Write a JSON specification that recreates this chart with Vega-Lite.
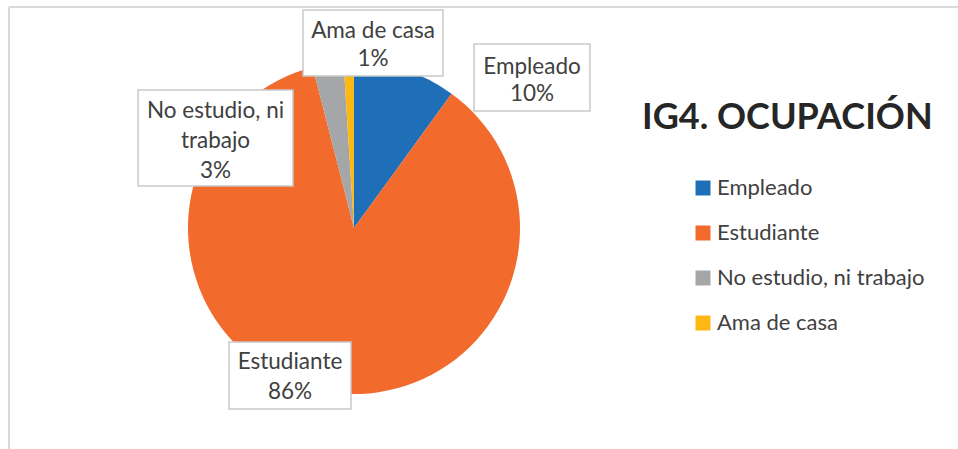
{
  "$schema": "https://vega.github.io/schema/vega-lite/v6.json",
  "width": 690,
  "height": 442,
  "autosize": {"type": "none"},
  "padding": {"left": 9, "top": 7, "right": 259, "bottom": 0},
  "background": "white",
  "config": {"view": {"stroke": null}, "font": "Lato"},
  "title": {
    "text": "IG4. OCUPACIÓN",
    "anchor": "start",
    "frame": "group",
    "orient": "top",
    "offset": 0,
    "dx": 633,
    "dy": 159,
    "baseline": "alphabetic",
    "font": "Lato",
    "fontSize": 36,
    "fontWeight": "bold",
    "color": "#262626"
  },
  "data": {
    "values": [
      {"cat": "Empleado", "label": "Empleado", "value": 0.10, "ord": 1},
      {"cat": "Estudiante", "label": "Estudiante", "value": 0.86, "ord": 2},
      {"cat": "No estudio, ni trabajo", "label": "No estudio, ni\ntrabajo", "value": 0.03, "ord": 3},
      {"cat": "Ama de casa", "label": "Ama de casa", "value": 0.01, "ord": 4}
    ]
  },
  "layer": [
    {
      "mark": {"type": "rule", "x": 0, "x2": {"expr": "width + 300"}, "color": "#d9d9d9", "strokeWidth": 2},
      "encoding": {"y": {"value": 0}}
    },
    {
      "mark": {"type": "rule", "y": 0, "y2": {"expr": "height + 300"}, "color": "#d9d9d9", "strokeWidth": 2},
      "encoding": {"x": {"value": 0}}
    },
    {
      "mark": {"type": "arc", "outerRadius": 166},
      "encoding": {
        "theta": {"field": "value", "type": "quantitative", "stack": true},
        "order": {"field": "ord", "type": "quantitative"},
        "color": {
          "field": "cat",
          "type": "nominal",
          "sort": ["Empleado", "Estudiante", "No estudio, ni trabajo", "Ama de casa"],
          "scale": {
            "domain": ["Empleado", "Estudiante", "No estudio, ni trabajo", "Ama de casa"],
            "range": ["#1f6eb8", "#f26a2c", "#a5a6a8", "#fdb813"]
          },
          "legend": {
            "orient": "none",
            "legendX": 683,
            "legendY": 170,
            "title": null,
            "symbolType": "square",
            "symbolSize": 225,
            "symbolStrokeWidth": 0,
            "labelFontSize": 22,
            "labelFont": "Lato",
            "labelColor": "#404040",
            "rowPadding": 23,
            "labelOffset": 3,
            "padding": 0,
            "labelLimit": 400
          }
        }
      }
    },
    {
      "mark": {"type": "point", "size": 4, "filled": true, "color": "white", "stroke": "#c9c9c9", "strokeWidth": 1.5, "opacity": 1},
      "encoding": {
        "x": {"field": "value", "type": "quantitative", "axis": null, "scale": {"domain": [0.01, 0.03, 0.10, 0.86], "range": [364, 206.5, 523, 281], "nice": false, "zero": false}},
        "y": {"field": "value", "type": "quantitative", "axis": null, "scale": {"domain": [0.01, 0.03, 0.10, 0.86], "range": [36, 131, 70.5, 368.5], "nice": false, "zero": false}},
        "shape": {
          "field": "cat",
          "type": "nominal",
          "scale": {
            "domain": ["Ama de casa", "No estudio, ni trabajo", "Empleado", "Estudiante"],
            "range": ["M-70,-33H70V33H-70Z", "M-77.5,-48H77.5V48H-77.5Z", "M-58,-33.5H58V33.5H-58Z", "M-61,-33.5H61V33.5H-61Z"]
          },
          "legend": null
        }
      }
    },
    {
      "mark": {"type": "text", "baseline": "top", "lineBreak": "\n", "lineHeight": 30, "fontSize": 22.5, "font": "Lato", "color": "#404040"},
      "encoding": {
        "x": {"field": "value", "type": "quantitative", "axis": null, "scale": {"domain": [0.01, 0.03, 0.10, 0.86], "range": [364, 206.5, 523, 281], "nice": false, "zero": false}},
        "y": {"field": "value", "type": "quantitative", "axis": null, "scale": {"domain": [0.01, 0.03, 0.10, 0.86], "range": [12.5, 92.5, 48.5, 343.5], "nice": false, "zero": false}},
        "text": {"field": "label"}
      }
    },
    {
      "mark": {"type": "text", "baseline": "top", "fontSize": 22.5, "font": "Lato", "color": "#404040"},
      "encoding": {
        "x": {"field": "value", "type": "quantitative", "axis": null, "scale": {"domain": [0.01, 0.03, 0.10, 0.86], "range": [364, 206.5, 523, 281], "nice": false, "zero": false}},
        "y": {"field": "value", "type": "quantitative", "axis": null, "scale": {"domain": [0.01, 0.03, 0.10, 0.86], "range": [40.5, 152.5, 76, 373.5], "nice": false, "zero": false}},
        "text": {"field": "value", "type": "quantitative", "format": ".0%"}
      }
    }
  ],
  "resolve": {"scale": {"y": "independent"}}
}
